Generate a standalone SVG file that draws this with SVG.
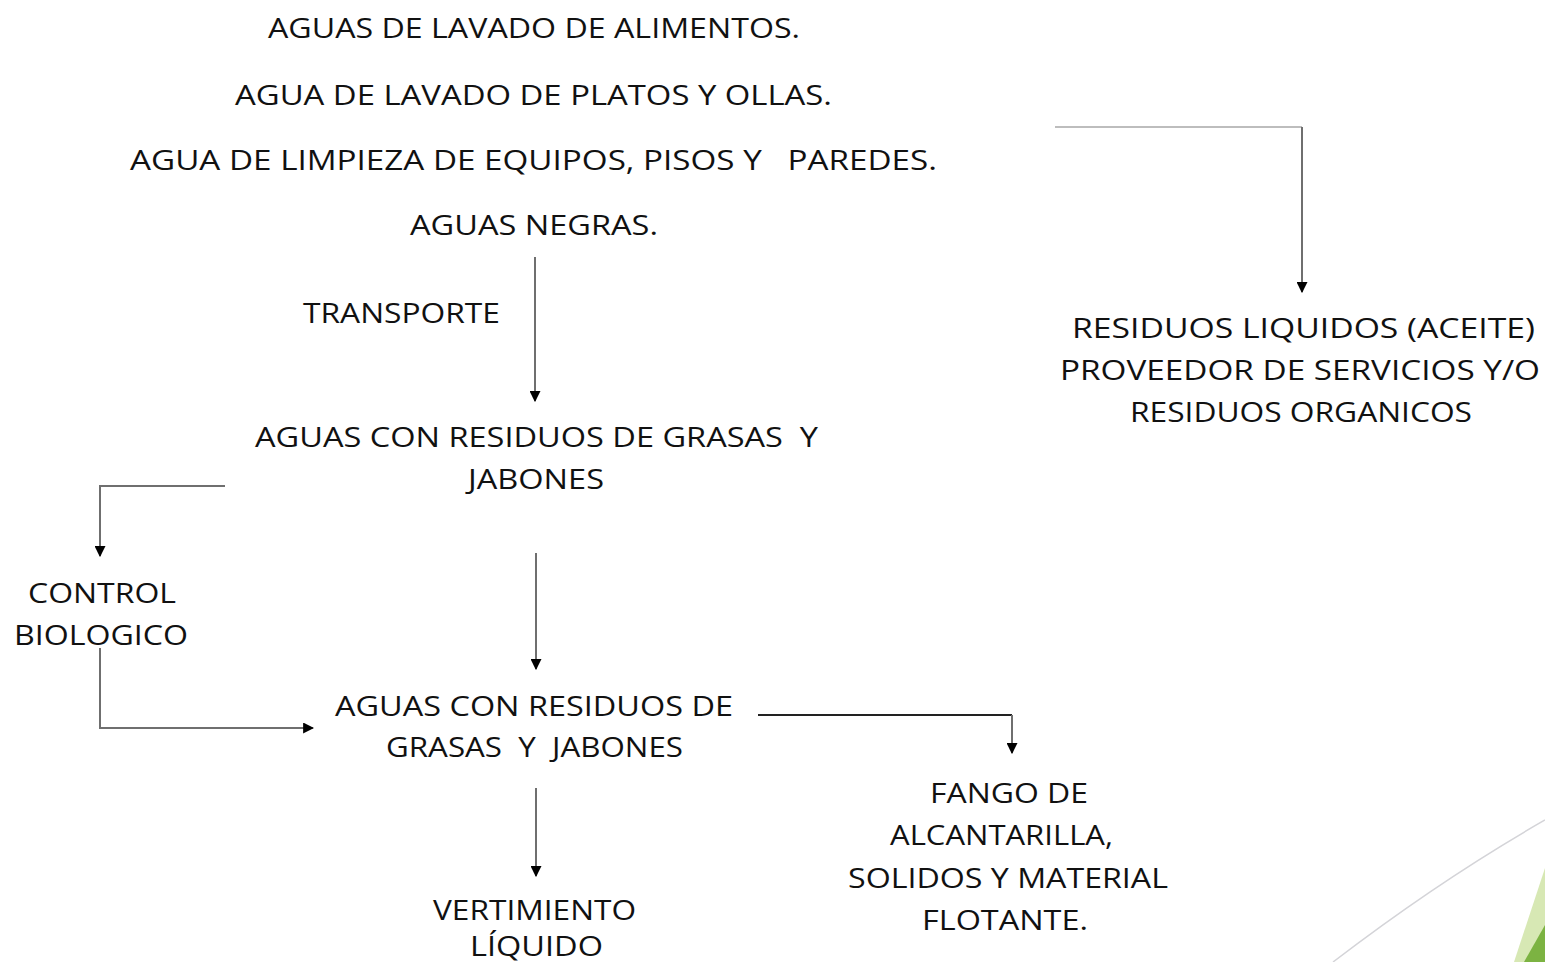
<svg xmlns="http://www.w3.org/2000/svg" width="1545" height="962" viewBox="0 0 1545 962">
<style>
text{font-family:"Open Sans","Liberation Sans",sans-serif;font-size:28px;fill:#111;}
.c{fill:none;stroke:#6f6f6f;stroke-width:2;}
.lt{stroke:#bdbdbd;}
.dk{stroke:#222;}
</style>
<defs>
<marker id="ah" viewBox="0 0 10 10" refX="9" refY="5" markerWidth="5.5" markerHeight="5.5" orient="auto" markerUnits="strokeWidth">
<path d="M0,0 L10,5 L0,10 z" fill="#000"/>
</marker>
</defs>
<rect width="1545" height="962" fill="#fff"/>
<g id="deco">
<path d="M1333,962 Q1440,880 1545,820" fill="none" stroke="#d4d4d8" stroke-width="1.5"/>
<polygon points="1545,868 1545,962 1514,962" fill="#d7e8b4"/>
<polygon points="1545,925 1545,962 1524,962" fill="#7cb342"/>
</g>
<g id="connectors">
<path class="c lt" d="M1055,127 H1302"/>
<path class="c" d="M1302,127 V292" marker-end="url(#ah)"/>
<path class="c" d="M535,257 V401" marker-end="url(#ah)"/>
<path class="c" d="M225,486 H100 V556" marker-end="url(#ah)"/>
<path class="c" d="M536,553 V669" marker-end="url(#ah)"/>
<path class="c" d="M100,648 V728 H313" marker-end="url(#ah)"/>
<path class="c dk" d="M758,715 H1012"/>
<path class="c" d="M1012,715 V753" marker-end="url(#ah)"/>
<path class="c" d="M536,788 V876" marker-end="url(#ah)"/>
</g>
<g id="n-sources">
<text x="268" y="38" textLength="532" lengthAdjust="spacingAndGlyphs">AGUAS DE LAVADO DE ALIMENTOS.</text>
<text x="235" y="105" textLength="597" lengthAdjust="spacingAndGlyphs">AGUA DE LAVADO DE PLATOS Y OLLAS.</text>
<text x="130" y="170" textLength="807" lengthAdjust="spacingAndGlyphs" xml:space="preserve">AGUA DE LIMPIEZA DE EQUIPOS, PISOS Y   PAREDES.</text>
<text x="410" y="235" textLength="248" lengthAdjust="spacingAndGlyphs">AGUAS NEGRAS.</text>
</g>
<g id="n-transporte">
<text x="303" y="323" textLength="197" lengthAdjust="spacingAndGlyphs">TRANSPORTE</text>
</g>
<g id="n-residuos-liquidos">
<text x="1072" y="338" textLength="463" lengthAdjust="spacingAndGlyphs">RESIDUOS LIQUIDOS (ACEITE)</text>
<text x="1060" y="380" textLength="480" lengthAdjust="spacingAndGlyphs">PROVEEDOR DE SERVICIOS Y/O</text>
<text x="1130" y="422" textLength="342" lengthAdjust="spacingAndGlyphs">RESIDUOS ORGANICOS</text>
</g>
<g id="n-aguas1">
<text x="255" y="447" textLength="563" lengthAdjust="spacingAndGlyphs" xml:space="preserve">AGUAS CON RESIDUOS DE GRASAS  Y</text>
<text x="468" y="489" textLength="136" lengthAdjust="spacingAndGlyphs">JABONES</text>
</g>
<g id="n-control">
<text x="28" y="603" textLength="148" lengthAdjust="spacingAndGlyphs">CONTROL</text>
<text x="14" y="645" textLength="174" lengthAdjust="spacingAndGlyphs">BIOLOGICO</text>
</g>
<g id="n-aguas2">
<text x="335" y="716" textLength="398" lengthAdjust="spacingAndGlyphs">AGUAS CON RESIDUOS DE</text>
<text x="386" y="757" textLength="297" lengthAdjust="spacingAndGlyphs" xml:space="preserve">GRASAS  Y  JABONES</text>
</g>
<g id="n-fango">
<text x="930" y="803" textLength="158" lengthAdjust="spacingAndGlyphs">FANGO DE</text>
<text x="890" y="845" textLength="223" lengthAdjust="spacingAndGlyphs">ALCANTARILLA,</text>
<text x="848" y="888" textLength="320" lengthAdjust="spacingAndGlyphs">SOLIDOS Y MATERIAL</text>
<text x="922" y="930" textLength="166" lengthAdjust="spacingAndGlyphs">FLOTANTE.</text>
</g>
<g id="n-vertimiento">
<text x="433" y="920" textLength="203" lengthAdjust="spacingAndGlyphs">VERTIMIENTO</text>
<text x="470" y="956" textLength="133" lengthAdjust="spacingAndGlyphs">LÍQUIDO</text>
</g>
</svg>
